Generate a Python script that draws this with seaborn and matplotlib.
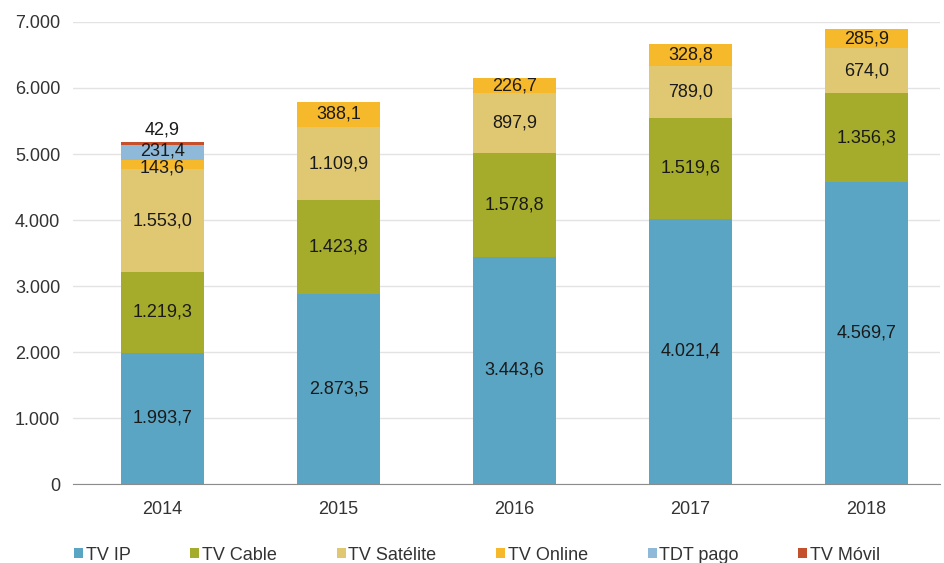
import matplotlib
matplotlib.use("Agg")
import matplotlib.pyplot as plt
import seaborn as sns
import numpy as np
import pandas as pd

years = ["2014", "2015", "2016", "2017", "2018"]
tv_ip = [1993.7, 2873.5, 3443.6, 4021.4, 4569.7]
tv_cable = [1219.3, 1423.8, 1578.8, 1519.6, 1356.3]
tv_satelite = [1553.0, 1109.9, 897.9, 789.0, 674.0]
tv_online = [143.6, 388.1, 226.7, 328.8, 285.9]
tdt_pago = [231.4, 0, 0, 0, 0]
tv_movil = [42.9, 0, 0, 0, 0]

series_names = ["TV IP", "TV Cable", "TV Satélite", "TV Online", "TDT pago", "TV Móvil"]
series_vals = [tv_ip, tv_cable, tv_satelite, tv_online, tdt_pago, tv_movil]
colors = ["#5BA5C4", "#A5AC2C", "#E0C873", "#F7B92C", "#8FB9D9", "#C4502C"]

def fmt(v):
    s = f"{v:,.1f}"
    return s.replace(",", "X").replace(".", ",").replace("X", ".")

sns.set_style("white")
plt.rcParams['font.family'] = ['Liberation Sans', 'DejaVu Sans']

FS = 13
fig = plt.figure(figsize=(9.45, 5.63), dpi=100)
ax = fig.add_axes([0.077, 0.140, 0.918, 0.821])

vals_arr = np.array(series_vals)
bottom = np.zeros(len(years))
for k, (name, vals, col) in enumerate(zip(series_names, series_vals, colors)):
    df = pd.DataFrame({"year": years, "val": vals})
    sns.barplot(data=df, x="year", y="val", color=col, bottom=bottom, width=0.47,
                ax=ax, label=name, saturation=1, edgecolor="none")
    for i, v in enumerate(vals):
        if v <= 0:
            continue
        if name == "TV Móvil":
            ax.text(i, bottom[i] + v + 45, fmt(v), ha="center", va="bottom",
                    fontsize=FS, color="#1a1a1a")
        else:
            y = bottom[i] + v / 2
            # nudge crowded labels in thin stacked segments apart
            if v < 250:
                nxt = vals_arr[k + 1, i] if k + 1 < len(series_vals) else 0
                if k + 1 < len(series_vals) - 1 and 0 < nxt < 300:
                    y -= 55
                elif 0 < vals_arr[k - 1, i] < 300:
                    y += 20
            ax.text(i, y, fmt(v), ha="center", va="center",
                    fontsize=FS, color="#1a1a1a")
    bottom = bottom + np.array(vals)

ax.set_ylim(0, 7000)
ax.set_xlim(-0.51, 4.42)
ax.set_yticks(range(0, 7001, 1000))
ax.set_yticklabels(["0"] + [f"{k}.000" for k in range(1, 8)])
ax.yaxis.grid(True, color="#e3e3e3", linewidth=1)
ax.set_axisbelow(True)
for s in ["top", "right", "left"]:
    ax.spines[s].set_visible(False)
ax.spines["bottom"].set_color("#8c8c8c")
ax.tick_params(axis="both", labelsize=FS, colors="#333333", length=0, pad=9)
ax.tick_params(axis="x", pad=12)
ax.set_xlabel("")
ax.set_ylabel("")

handles, labels = ax.get_legend_handles_labels()
if ax.get_legend() is not None:
    ax.get_legend().remove()
leg = fig.legend(handles, labels, loc="lower center", bbox_to_anchor=(0.505, -0.03),
                 ncol=6, frameon=False, fontsize=FS, handlelength=0.5,
                 handleheight=0.5, handletextpad=0.15, columnspacing=3.3)
for t in leg.get_texts():
    t.set_color("#333333")

fig.savefig("out.png", dpi=100)
